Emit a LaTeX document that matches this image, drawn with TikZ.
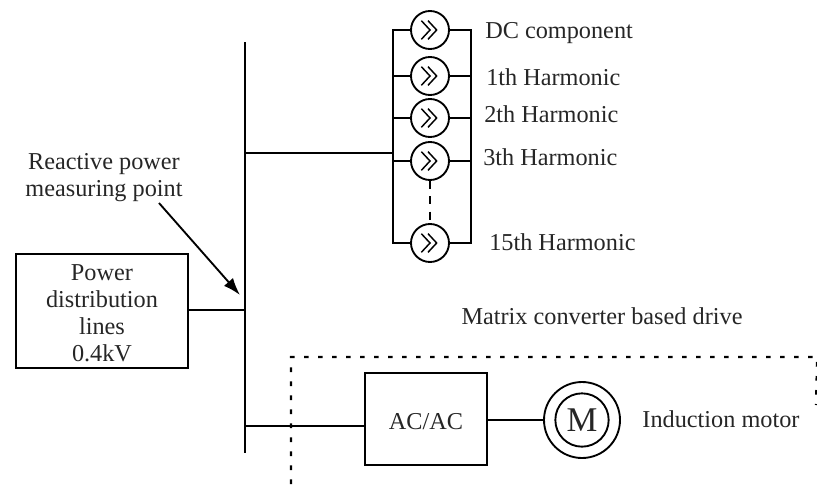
\documentclass[tikz,border=0pt]{standalone}
\usepackage{fontspec}
\setmainfont{Liberation Serif}
\usetikzlibrary{arrows.meta, calc}
\tikzset{
    my-text/.style={
        font=\fontsize{18.2pt}{20.3pt}\selectfont, inner sep=0pt, text=black!85
    },
    my-box/.style={
        draw, line width=1.5pt
    },
    my-filter/.style={
        draw, shape=circle, line width=1.4pt, minimum size=28.5pt, inner sep=0pt,
        path picture={
            \draw[line width=1.1pt] ($(path picture bounding box.center) + (-6.5pt, -7pt)$) -- ++(6.5pt, 7pt) -- ++(-6.5pt, 7pt);
            \draw[line width=1.1pt] ($(path picture bounding box.center) + (-1.5pt, -7pt)$) -- ++(6.5pt, 7pt) -- ++(-6.5pt, 7pt);
        }
    },
    my-wire/.style={
        line width=1.5pt
    },
}
\begin{document}
\begin{tikzpicture}[x=.75pt, y=-.75pt]
        \useasboundingbox (0, 0) rectangle (817, 486);

        % BUS BAR
        \coordinate[] (BUSTOP) at (245, 42);
        \coordinate[] (BUSBOT) at (245, 453);
        \draw[my-wire] (BUSTOP) -- (BUSBOT);

        % SOURCE
        \node[my-box, minimum width=129pt, minimum height=85.5pt] (SRC) at (102, 311) {};
        \node[my-text, align=center] (SRCTEXT) at (102, 313) {Power\\distribution\\lines\\0.4kV};
        \draw[my-wire] (SRC.east |- 0, 310) -- (245, 310);

        % FILTER BRANCHES
        \node[my-filter] (H0)  at (430, 30)  {};
        \node[my-filter] (H1)  at (430, 76)  {};
        \node[my-filter] (H2)  at (430, 118) {};
        \node[my-filter] (H3)  at (430, 161) {};
        \node[my-filter] (H15) at (430, 243) {};
        \coordinate[] (RAILL) at (393, 153);
        \coordinate[] (RAILR) at (471, 153);
        \draw[my-wire] (H0.west)  -- (H0 -| RAILL)  -- (H15 -| RAILL) -- (H15.west);
        \draw[my-wire] (H0.east)  -- (H0 -| RAILR)  -- (H15 -| RAILR) -- (H15.east);
        \draw[my-wire] (H1.west)  -- (H1 -| RAILL);
        \draw[my-wire] (H1.east)  -- (H1 -| RAILR);
        \draw[my-wire] (H2.west)  -- (H2 -| RAILL);
        \draw[my-wire] (H2.east)  -- (H2 -| RAILR);
        \draw[my-wire] (H3.west)  -- (H3 -| RAILL);
        \draw[my-wire] (H3.east)  -- (H3 -| RAILR);
        \draw[my-wire] (RAILL -| BUSTOP) -- (RAILL);
        \draw[my-wire, dash pattern=on 6pt off 5.5pt] (H3.south) -- (H15.north);

        % FILTER LABELS
        \node[my-text, anchor=west] (L0)  at (485, 33)  {DC component};
        \node[my-text, anchor=west] (L1)  at (486, 77)  {1th Harmonic};
        \node[my-text, anchor=west] (L2)  at (484, 114) {2th Harmonic};
        \node[my-text, anchor=west] (L3)  at (483, 157) {3th Harmonic};
        \node[my-text, anchor=west] (L15) at (489, 242) {15th Harmonic};

        % MEASURING POINT
        \node[my-text, align=center] (MP) at (104, 178) {Reactive power\\measuring point};
        \coordinate[] (MPTIP) at (240, 295);
        \draw[line width=1.4pt, -{Latex[length=13pt, width=9pt]}] (159, 203) -- (MPTIP);

        % DRIVE
        \node[my-box, minimum width=91pt, minimum height=69pt] (CONV) at (426, 419) {};
        \node[my-text] (CONVTEXT) at (426, 422) {AC/AC};
        \node[draw, shape=circle, line width=1.4pt, minimum size=57pt, inner sep=0pt] (MOTOR) at (582, 420) {};
        \node[draw, shape=circle, line width=1.4pt, minimum size=40pt, inner sep=0pt, text=black!85, font=\fontsize{26pt}{30pt}\selectfont] (ROTOR) at (MOTOR) {M};
        \draw[my-wire] (BUSBOT |- 0, 426) -- (CONV.west |- 0, 426);
        \draw[my-wire] (CONV.east |- MOTOR) -- (MOTOR.west);
        \node[my-text] (IM) at (721, 419) {Induction motor};
        \node[my-text] (DRIVE) at (602, 316) {Matrix converter based drive};

        % DOTTED BORDER
        \coordinate[] (DOTA) at (291, 484);
        \coordinate[] (DOTB) at (291, 357);
        \coordinate[] (DOTC) at (817, 357);
        \coordinate[] (DOTD) at (816, 405);
        \draw[line width=1.6pt, dash pattern=on 3.5pt off 7pt] (DOTA) -- (DOTB) -- (DOTC) -- (DOTD);

\end{tikzpicture}
\end{document}
